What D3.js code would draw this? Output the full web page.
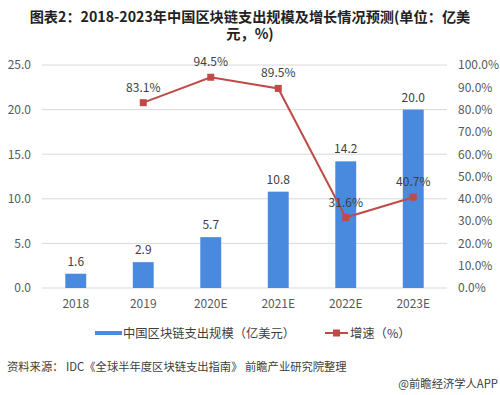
<html>
<head>
  <meta charset="utf-8">
  <script src="https://cdn.jsdelivr.net/npm/d3@7"></script>
  <style>
    body { margin: 0; background: #fff; }
    text { font-family: "Noto Sans CJK SC", "Noto Sans", sans-serif; }
  </style>
</head>
<body>
<svg width="500" height="395" id="chart"></svg>
<script>
  // 数据
  var years = ["2018", "2019", "2020E", "2021E", "2022E", "2023E"];
  var spend = [1.6, 2.9, 5.7, 10.8, 14.2, 20.0];
  var growth = [null, 83.1, 94.5, 89.5, 31.6, 40.7];
  var leftTicks = [0, 5, 10, 15, 20, 25];
  var rightTicks = [0, 10, 20, 30, 40, 50, 60, 70, 80, 90, 100];

  var svg = d3.select("#chart");
  var barColor = "#4a8ade", lineColor = "#be4b48";

  var x = d3.scaleBand().domain(years).range([42, 447]).paddingInner(0.69).paddingOuter(0.345);
  var y = d3.scaleLinear().domain([0, 25]).range([288, 65]);
  var y2 = d3.scaleLinear().domain([0, 100]).range([288, 65]);

  // 标题
  var title = svg.append("text").attr("text-anchor", "middle").attr("font-weight", "bold")
    .attr("font-size", "14.2px").attr("fill", "#222");
  title.append("tspan").attr("x", 250).attr("y", 22).text("图表2：2018-2023年中国区块链支出规模及增长情况预测(单位：亿美");
  title.append("tspan").attr("x", 250).attr("y", 39).text("元，%)");

  // 网格线
  svg.append("g").selectAll("line").data(leftTicks).enter().append("line")
    .attr("x1", 42).attr("x2", 447)
    .attr("y1", d => y(d)).attr("y2", d => y(d))
    .attr("stroke", "#d9d9d9").attr("stroke-width", 1);

  // 左轴
  var left = svg.append("g").attr("transform", "translate(34,0)")
    .call(d3.axisLeft(y).tickValues(leftTicks).tickFormat(d3.format(".1f")).tickSize(0));
  left.select(".domain").remove();
  left.selectAll("text").attr("font-size", "12px").attr("fill", "#595959")
    .attr("font-family", "'Noto Sans', sans-serif");

  // 右轴
  var right = svg.append("g").attr("transform", "translate(455,0)")
    .call(d3.axisRight(y2).tickValues(rightTicks).tickFormat(d => d.toFixed(1) + "%").tickSize(0));
  right.select(".domain").remove();
  right.selectAll("text").attr("font-size", "12px").attr("fill", "#595959")
    .attr("font-family", "'Noto Sans', sans-serif");

  // X轴
  var bottom = svg.append("g").attr("transform", "translate(0,296)")
    .call(d3.axisBottom(x).tickSize(0));
  bottom.select(".domain").remove();
  bottom.selectAll("text").attr("font-size", "12px").attr("fill", "#595959")
    .attr("font-family", "'Noto Sans', sans-serif");

  // 柱子
  svg.append("g").selectAll("rect").data(spend).enter().append("rect")
    .attr("x", (d, i) => x(years[i]))
    .attr("y", d => y(d))
    .attr("width", x.bandwidth())
    .attr("height", d => y(0) - y(d))
    .attr("fill", barColor);

  svg.append("g").selectAll("text").data(spend).enter().append("text")
    .attr("x", (d, i) => x(years[i]) + x.bandwidth() / 2)
    .attr("y", d => y(d) - 8)
    .attr("text-anchor", "middle").attr("font-size", "12px").attr("fill", "#404040")
    .attr("font-family", "'Noto Sans', sans-serif")
    .text(d => d.toFixed(1));

  // 折线
  var pts = growth.map((g, i) => ({ g: g, year: years[i] })).filter(d => d.g !== null);
  var cx = d => x(d.year) + x.bandwidth() / 2;
  var line = d3.line().x(cx).y(d => y2(d.g));
  svg.append("path").datum(pts).attr("d", line)
    .attr("fill", "none").attr("stroke", lineColor).attr("stroke-width", 2);
  svg.append("g").selectAll("rect").data(pts).enter().append("rect")
    .attr("x", d => cx(d) - 3.5).attr("y", d => y2(d.g) - 3.5)
    .attr("width", 7).attr("height", 7).attr("fill", lineColor);
  svg.append("g").selectAll("text").data(pts).enter().append("text")
    .attr("x", cx).attr("y", d => y2(d.g) - 11)
    .attr("text-anchor", "middle").attr("font-size", "12px").attr("fill", "#404040")
    .attr("font-family", "'Noto Sans', sans-serif")
    .text(d => d.g.toFixed(1) + "%");

  // 图例
  var lg = svg.append("g");
  lg.append("rect").attr("x", 95).attr("y", 331).attr("width", 27).attr("height", 4).attr("fill", barColor);
  lg.append("text").attr("x", 123).attr("y", 338).attr("font-size", "12.3px").attr("fill", "#404040")
    .text("中国区块链支出规模（亿美元）");
  lg.append("line").attr("x1", 325).attr("x2", 348).attr("y1", 333).attr("y2", 333)
    .attr("stroke", lineColor).attr("stroke-width", 2);
  lg.append("rect").attr("x", 333).attr("y", 329.5).attr("width", 7).attr("height", 7).attr("fill", lineColor);
  lg.append("text").attr("x", 350).attr("y", 338).attr("font-size", "12.3px").attr("fill", "#404040")
    .text("增速（%）");

  // 来源
  svg.append("text").attr("x", 7).attr("y", 371).attr("font-size", "11.3px").attr("fill", "#404040")
    .text("资料来源： IDC《全球半年度区块链支出指南》 前瞻产业研究院整理");
  svg.append("text").attr("x", 498).attr("y", 388).attr("text-anchor", "end")
    .attr("font-size", "11.3px").attr("fill", "#404040")
    .text("@前瞻经济学人APP");
</script>
</body>
</html>
